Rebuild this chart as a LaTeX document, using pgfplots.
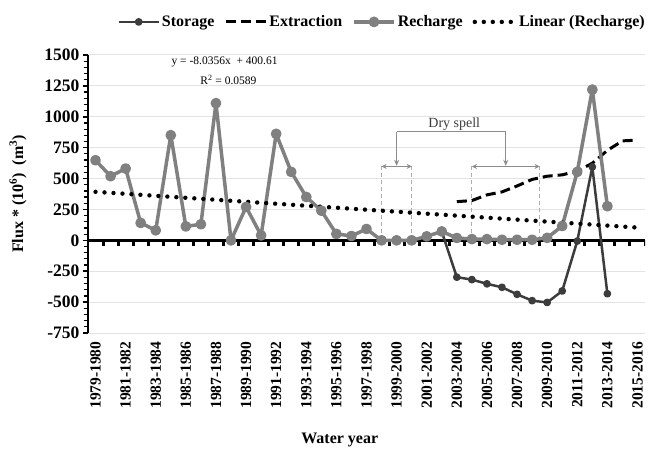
\documentclass[border=0pt]{standalone}
\usepackage{pgfplots}
\pgfplotsset{compat=1.18}
\usetikzlibrary{arrows.meta}
\usepackage{fontspec}
\setmainfont{Liberation Serif}
\definecolor{stor}{HTML}{3C3C3C}
\definecolor{rech}{HTML}{808080}
\definecolor{gridc}{HTML}{E3E3E3}
\definecolor{annot}{HTML}{8C8C8C}
\begin{document}
\begin{tikzpicture}
\path[use as bounding box] (-88pt,-122pt) rectangle (564pt,333pt);
\begin{axis}[
 at={(0pt,0pt)}, anchor=south west,
 scale only axis, width=557pt, height=278pt,
 xmin=-0.5, xmax=36.5, ymin=-750, ymax=1500,
 axis lines*=left,
 x axis line style={draw=none},
 y axis line style={black, line width=1.5pt},
 xtick={0,2,...,36},
 xticklabels={1979-1980,1981-1982,1983-1984,1985-1986,1987-1988,1989-1990,1991-1992,1993-1994,1995-1996,1997-1998,1999-2000,2001-2002,2003-2004,2005-2006,2007-2008,2009-2010,2011-2012,2013-2014,2015-2016},
 x tick style={draw=none},
 x tick label style={rotate=90, anchor=east, font=\bfseries\fontsize{15.5}{18}\selectfont},
 ytick={-750,-500,...,1500},
 y tick label style={font=\bfseries\fontsize{17.5}{20}\selectfont},
 /pgf/number format/assume math mode=true,
 /pgf/number format/1000 sep={},
 ymajorgrids, grid style={gridc, line width=1pt},
 minor y tick num=4,
 tick align=outside,
 major tick length=5pt, minor tick length=4pt,
 y tick style={black, line width=1.5pt},
 minor y tick style={black, line width=1.2pt},
 ylabel={Flux * (10\textsuperscript{6}) \ (m\textsuperscript{3})},
 ylabel style={at={(axis description cs:-0.1257,0.5)}, anchor=center, font=\bfseries\fontsize{16}{19}\selectfont},
 xlabel={Water year},
 xlabel style={at={(axis description cs:0.452,-0.385)}, anchor=center, font=\bfseries\fontsize{16}{19}\selectfont},
 legend style={draw=none, fill=none, legend columns=4, at={(0.528,1.119)}, anchor=center,
   font=\bfseries\fontsize{16}{19}\selectfont,
   /tikz/every even column/.append style={column sep=8pt}},
 legend image code/.code={\draw[mark repeat=2,mark phase=2,#1] plot coordinates {(0pt,0pt) (20pt,0pt) (40pt,0pt)};},
 every axis plot/.append style={line join=round},
]
\draw[black, line width=2.5pt] (axis cs:-0.5,0) -- (axis cs:36.5,0);
\pgfplotsinvokeforeach{-0.5,0.5,...,36.5}{\draw[black, line width=3pt] (axis cs:#1,0) -- ++(0pt,-6pt);}
\draw[annot!70, line width=0.8pt, dash pattern=on 4pt off 3pt] (axis cs:19,598) -- (axis cs:19,0);
\draw[annot!70, line width=0.8pt, dash pattern=on 4pt off 3pt] (axis cs:21,598) -- (axis cs:21,0);
\draw[annot!70, line width=0.8pt, dash pattern=on 4pt off 3pt] (axis cs:25,598) -- (axis cs:25,0);
\draw[annot!70, line width=0.8pt, dash pattern=on 4pt off 3pt] (axis cs:29.5,598) -- (axis cs:29.5,0);

\addplot[stor, line width=2.5pt, mark=*, mark size=2.6pt, mark options={solid}] coordinates {
(23,70) (24,-298) (25,-318) (26,-352) (27,-380) (28,-437) (29,-488) (30,-503) (31,-410) (32,-6) (33,594) (34,-432)};
\addlegendentry{Storage}
\addplot[black, line width=3pt, dash pattern=on 10pt off 5pt] coordinates {
(24,313) (25,322) (26,368) (27,392) (28,440) (29,493) (30,519) (31,530) (32,560) (33,624) (34,728) (35,805) (36,811)};
\addlegendentry{Extraction}
\addplot[rech, line width=3.5pt, mark=*, mark size=3.6pt, mark options={solid}] coordinates {
(0,648) (1,519) (2,581) (3,141) (4,81) (5,851) (6,113) (7,130) (8,1110) (9,0) (10,270) (11,40) (12,862) (13,554) (14,351) (15,240) (16,52) (17,35) (18,92) (19,0) (20,0) (21,0) (22,32) (23,72) (24,19) (25,10) (26,10) (27,5) (28,5) (29,5) (30,20) (31,116) (32,554) (33,1220) (34,276)};
\addlegendentry{Recharge}
\addplot[black, line width=4.4pt, line cap=round, dash pattern=on 0pt off 9pt] coordinates {(0,392.57) (36,103.29)};
\addlegendentry{Linear (Recharge)}

\node[font=\fontsize{11.5}{13}\selectfont] at (axis cs:8.57,1444) {y = -8.0356x \ + 400.61};
\node[font=\fontsize{11.5}{13}\selectfont] at (axis cs:8.83,1298) {R\textsuperscript{2} = 0.0589};
\node[font=\fontsize{14}{16}\selectfont, text=stor] at (axis cs:23.83,941) {Dry spell};
\draw[annot, line width=1pt] (axis cs:20,878) -- (axis cs:27.25,878);
\draw[annot, line width=1pt, -{Stealth[length=6pt,width=5pt]}] (axis cs:20,878) -- (axis cs:20,603);
\draw[annot, line width=1pt, -{Stealth[length=6pt,width=5pt]}] (axis cs:27.25,878) -- (axis cs:27.25,603);
\draw[annot, line width=1pt, {Stealth[length=5pt,width=5pt]}-{Stealth[length=5pt,width=5pt]}] (axis cs:19,598) -- (axis cs:21,598);
\draw[annot, line width=1pt, {Stealth[length=5pt,width=5pt]}-{Stealth[length=5pt,width=5pt]}] (axis cs:25,598) -- (axis cs:29.5,598);
\end{axis}
\end{tikzpicture}
\end{document}
